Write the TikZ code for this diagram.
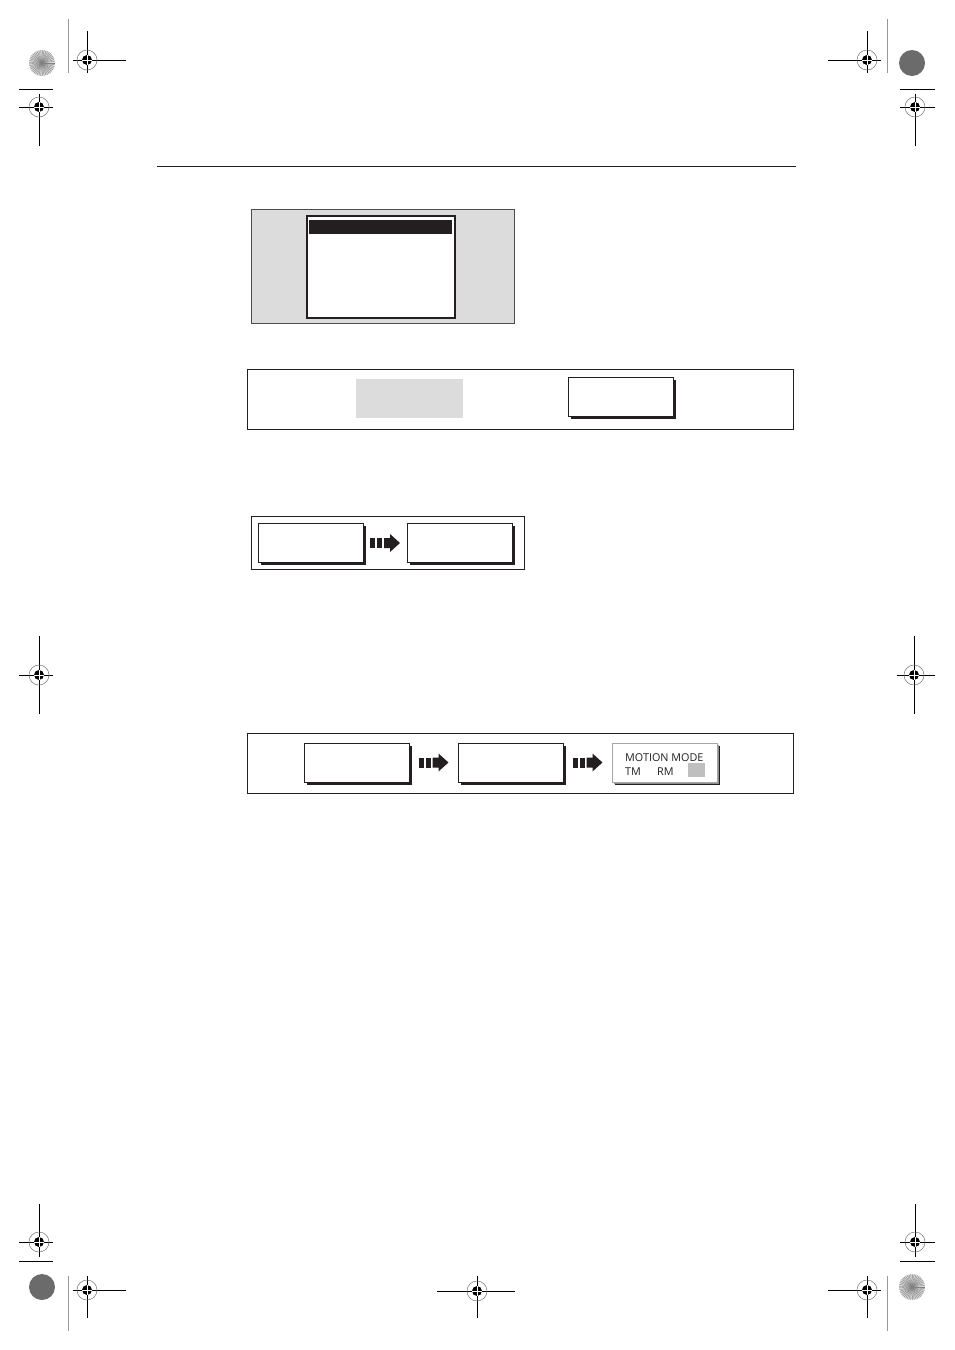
\documentclass[tikz,border=0pt]{standalone}
\usepackage{fontspec}
\setmainfont{Open Sans}
\usetikzlibrary{calc}
\usetikzlibrary{shadows}

\definecolor{panelgray}{HTML}{DCDCDC}
\definecolor{inkblack}{HTML}{231F20}

\tikzset{
 softkey/.style={draw=inkblack, line width=1pt, fill=white, inner sep=0, minimum width=105pt, minimum height=39pt,
   drop shadow={shadow xshift=2.5pt, shadow yshift=-2.5pt, fill=inkblack, opacity=1}},
 dimkey/.style={softkey, draw=black!35, drop shadow={shadow xshift=2pt, shadow yshift=-2pt, fill=black!45, opacity=1}},
 frame/.style={draw=inkblack, line width=0.9pt},
 target/.pic={
   \draw[black!55, line width=0.5pt] (0,0) circle (10pt);
   \fill[black] (0,0) circle (5pt);
   \draw[white, line width=0.7pt] (-5pt,0)--(5pt,0) (0,-5pt)--(0,5pt);
 },
 goarrow/.pic={
   \fill[inkblack] (-15,-5) rectangle (-10,5);
   \fill[inkblack] (-8,-5) rectangle (-3,5);
   \fill[inkblack] (-1,-5) -- (5,-5) -- (5,-9) -- (15,0) -- (5,9) -- (5,5) -- (-1,5) -- cycle;
 }
}

\begin{document}
\begin{tikzpicture}[x=1pt, y=-1pt, font=\fontsize{10.8}{13}\selectfont]
\useasboundingbox (0,0) rectangle (954,1350);

% crop and registration marks
\foreach \xa/\xb/\yy in {19/53/89, 900/935/89, 19/53/1261, 900/935/1261}
 \draw[black, line width=1pt] (\xa,\yy)--(\xb,\yy);
\foreach \xx/\ya/\yb in {68/19/73, 887/19/73, 68/1276/1331, 887/1276/1331}
 \draw[black!40, line width=1pt] (\xx,\ya)--(\xx,\yb);
\foreach \cx/\cy/\xa/\xb/\ya/\yb in {87/60/73/126/31/73, 39/107/19/53/94/146, 867/60/828/881/31/73,
   915/107/900/935/94/146, 39/675/19/53/636/714, 914/675/897/935/636/714, 39/1242/19/53/1204/1257,
   87/1290/73/126/1276/1318, 477/1291/437/515/1276/1318, 867/1290/828/881/1276/1318, 915/1242/900/935/1204/1257} {
 \draw[black, line width=1pt] (\xa,\cy)--(\xb,\cy) (\cx,\ya)--(\cx,\yb);
 \pic at (\cx,\cy) {target};
}
\foreach \cx/\cy in {42/63, 912/1287} {
 \fill[black!15] (\cx,\cy) circle (13pt);
 \foreach \a in {0,8,...,352}
  \draw[black!50, line width=0.35pt] (\cx,\cy) -- ++(\a:13pt);
}
\foreach \cx/\cy in {912/63, 42/1287}
 \fill[black!58] (\cx,\cy) circle (13pt);

% header rule
\draw[inkblack, line width=0.8pt] (157,166)--(796,166);

% menu screen
\filldraw[fill=panelgray, draw=black!70, line width=0.9pt] (251,209) rectangle (514,323);
\filldraw[fill=white, draw=inkblack, line width=2pt] (307,216) rectangle (455,318);
\fill[inkblack] (309,220) rectangle (452,234);

% soft key pair
\draw[frame] (247,369) rectangle (793,429);
\node[fill=panelgray, minimum width=107pt, minimum height=39pt, inner sep=0] (greykey) at (409.5,398.5) {};
\node[softkey] (onkey) at (620.5,397) {};

% two step
\draw[frame] (251,516) rectangle (524,569);
\node[softkey] (stepA) at (310.5,543) {};
\node[softkey] (stepB) at (459.5,543) {};
\pic at ($(stepA.east)!0.5!(stepB.west)$) {goarrow};

% three step with motion mode
\draw[frame] (247,733) rectangle (793,793);
\node[softkey] (keyA) at (356.5,762.5) {};
\node[softkey] (keyB) at (510.5,762.5) {};
\node[dimkey] (motion) at (664.5,762.5) {};
\pic at ($(keyA.east)!0.5!(keyB.west)$) {goarrow};
\pic at ($(keyB.east)!0.5!(motion.west)$) {goarrow};
\node[anchor=base west, inner sep=0, text=inkblack] (mmtitle) at (625,761) {MOTION MODE};
\node[anchor=base west, inner sep=0, text=inkblack] (mmtm) at (625,775) {TM};
\node[anchor=base west, inner sep=0, text=inkblack] (mmrm) at (657,775) {RM};
\fill[black!25] (688,763) rectangle (705,777);
\end{tikzpicture}
\end{document}
